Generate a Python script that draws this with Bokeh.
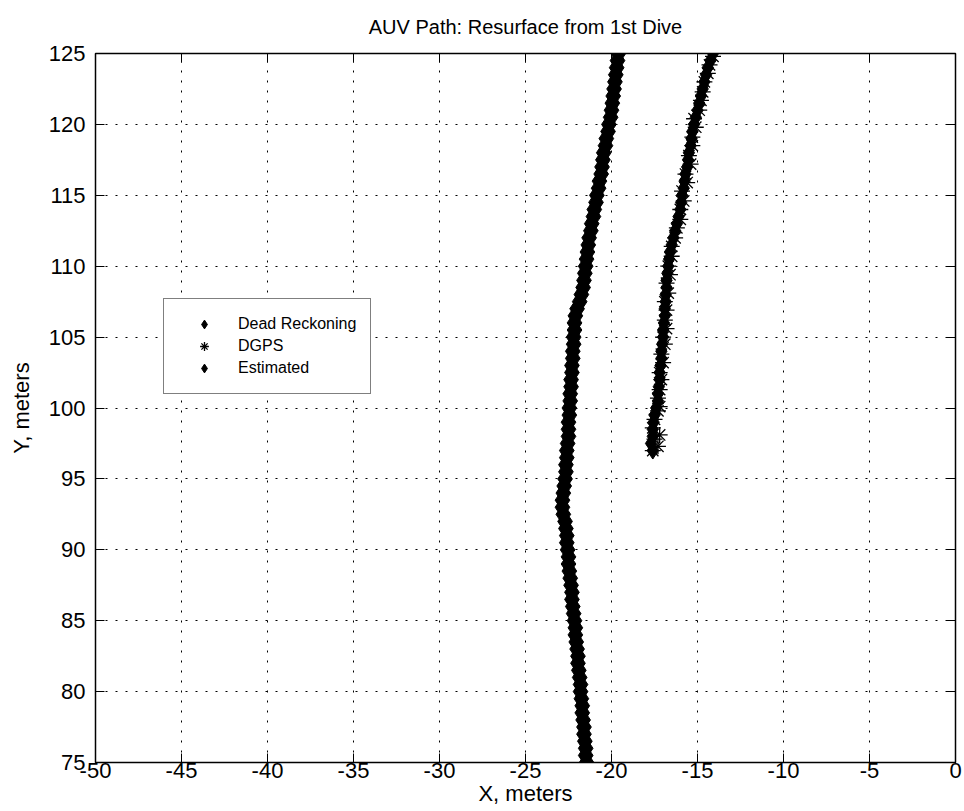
from bokeh.plotting import figure
from bokeh.models import LinearAxis, Range1d, Legend, LegendItem, FixedTicker
from bokeh.embed import file_html
from bokeh.resources import INLINE

# ---- data ----
dr_y = [75.0, 75.5, 76.0, 76.5, 77.0, 77.5, 78.0, 78.5, 79.0, 79.5,
        80.0, 80.5, 81.0, 81.5, 82.0, 82.5, 83.0, 83.5, 84.0, 84.5,
        85.0, 85.5, 86.0, 86.5, 87.0, 87.5, 88.0, 88.5, 89.0, 89.5,
        90.0, 90.5, 91.0, 91.5, 92.0, 92.5, 93.0, 93.5, 94.0, 94.5,
        95.0, 95.5, 96.0, 96.5, 97.0, 97.5, 98.0, 98.5, 99.0, 99.5,
        100.0, 100.5, 101.0, 101.5, 102.0, 102.5, 103.0, 103.5, 104.0, 104.5,
        105.0, 105.5, 106.0, 106.5, 107.0, 107.5, 108.0, 108.5, 109.0, 109.5,
        110.0, 110.5, 111.0, 111.5, 112.0, 112.5, 113.0, 113.5, 114.0, 114.5,
        115.0, 115.5, 116.0, 116.5, 117.0, 117.5, 118.0, 118.5, 119.0, 119.5,
        120.0, 120.5, 121.0, 121.5, 122.0, 122.5, 123.0, 123.5, 124.0, 124.5,
        125.0]
dr_x = [-21.45, -21.5, -21.5, -21.55, -21.6, -21.6, -21.65, -21.7, -21.7, -21.75,
        -21.8, -21.8, -21.85, -21.9, -21.95, -21.95, -22.0, -22.05, -22.1, -22.1,
        -22.15, -22.2, -22.25, -22.3, -22.3, -22.35, -22.4, -22.45, -22.5, -22.5,
        -22.55, -22.6, -22.6, -22.65, -22.7, -22.8, -22.85, -22.85, -22.8, -22.75,
        -22.7, -22.65, -22.65, -22.6, -22.6, -22.55, -22.5, -22.5, -22.5, -22.45,
        -22.45, -22.4, -22.4, -22.35, -22.35, -22.3, -22.3, -22.25, -22.25, -22.2,
        -22.2, -22.15, -22.15, -22.1, -22.0, -21.85, -21.75, -21.65, -21.6, -21.55,
        -21.5, -21.45, -21.4, -21.35, -21.3, -21.2, -21.15, -21.05, -21.0, -20.9,
        -20.85, -20.75, -20.7, -20.6, -20.55, -20.5, -20.45, -20.35, -20.3, -20.2,
        -20.15, -20.05, -20.0, -19.95, -19.9, -19.85, -19.8, -19.75, -19.7, -19.65,
        -19.6]

dgps_x = [-17.6, -17.3, -17.5, -17.2, -17.6, -17.5, -17.3, -17.2, -17.3, -17.2,
          -17.1, -17.2, -17.0, -17.1, -16.9, -17.0, -16.8, -16.9, -16.8, -16.9,
          -16.7, -16.8, -16.6, -16.7, -16.5, -16.5, -16.3, -16.2, -16.0, -16.0,
          -15.8, -15.9, -15.6, -15.7, -15.4, -15.5, -15.3, -15.3, -15.1, -15.2,
          -14.9, -14.8, -14.7, -14.6, -14.4, -14.3, -14.1]
dgps_y = [97.0, 97.3, 97.8, 98.1, 98.6, 99.2, 99.8, 100.1, 100.7, 101.3,
          102.0, 102.5, 103.2, 103.8, 104.5, 105.0, 105.6, 106.2, 106.9, 107.5,
          108.1, 108.8, 109.4, 110.0, 110.7, 111.4, 112.0, 112.7, 113.3, 114.0,
          114.6, 115.3, 115.9, 116.5, 117.2, 117.8, 118.5, 119.1, 119.8, 120.4,
          121.0, 121.7, 122.3, 123.0, 123.6, 124.2, 124.8]

est_y = [97.0, 97.5, 98.0, 98.5, 99.0, 99.5, 100.0, 100.5, 101.0, 101.5,
         102.0, 102.5, 103.0, 103.5, 104.0, 104.5, 105.0, 105.5, 106.0, 106.5,
         107.0, 107.5, 108.0, 108.5, 109.0, 109.5, 110.0, 110.5, 111.0, 111.5,
         112.0, 112.5, 113.0, 113.5, 114.0, 114.5, 115.0, 115.5, 116.0, 116.5,
         117.0, 117.5, 118.0, 118.5, 119.0, 119.5, 120.0, 120.5, 121.0, 121.5,
         122.0, 122.5, 123.0, 123.5, 124.0, 124.5, 125.0]
est_x = [-17.6, -17.7, -17.6, -17.6, -17.55, -17.5, -17.4, -17.3, -17.3, -17.25,
         -17.2, -17.2, -17.15, -17.1, -17.1, -17.05, -17.0, -17.0, -16.95, -16.9,
         -16.9, -16.85, -16.85, -16.8, -16.8, -16.75, -16.7, -16.65, -16.6, -16.5,
         -16.4, -16.3, -16.2, -16.1, -16.0, -15.95, -15.9, -15.8, -15.75, -15.7,
         -15.6, -15.55, -15.5, -15.4, -15.35, -15.3, -15.2, -15.1, -15.0, -14.9,
         -14.8, -14.7, -14.6, -14.5, -14.4, -14.25, -14.1]

x_ticks = [-50, -45, -40, -35, -30, -25, -20, -15, -10, -5, 0]
y_ticks = [75, 80, 85, 90, 95, 100, 105, 110, 115, 120, 125]

FONT = "'Liberation Sans', Arial, sans-serif"

p = figure(width=962, height=808, output_backend="svg", toolbar_location=None,
           x_range=Range1d(-50, 0), y_range=Range1d(75, 125),
           min_border_left=95, min_border_right=7, min_border_top=53,
           min_border_bottom=45,
           title="AUV Path: Resurface from 1st Dive")
p.background_fill_color = "white"
p.border_fill_color = "white"
p.outline_line_color = "black"
p.outline_line_width = 1.5

p.title.align = "center"
p.title.vertical_align = "top"
p.title.text_font = FONT
p.title.text_font_size = "20px"
p.title.text_font_style = "normal"
p.title.text_color = "black"
p.title.standoff = 27

for ax, ticks in ((p.xaxis[0], x_ticks), (p.yaxis[0], y_ticks)):
    ax.ticker = FixedTicker(ticks=ticks)
    ax.major_label_overrides = {t: str(t) for t in ticks}
    ax.major_tick_in = 9
    ax.major_tick_out = 0
    ax.minor_tick_line_color = None
    ax.axis_line_color = "black"
    ax.major_tick_line_color = "black"
    ax.major_label_text_font = FONT
    ax.major_label_text_font_size = "22px"
    ax.major_label_text_color = "black"
    ax.axis_label_text_font = FONT
    ax.axis_label_text_font_size = "22px"
    ax.axis_label_text_font_style = "normal"
    ax.axis_label_text_color = "black"

p.xaxis.axis_label = "X, meters"
p.yaxis.axis_label = "Y, meters"
p.xaxis.major_label_standoff = 0
p.xaxis.axis_label_standoff = 0
p.yaxis.major_label_standoff = 10
p.yaxis.axis_label_standoff = 12

# box ticks on top / right (no labels)
for loc, ticks in (("right", y_ticks), ("above", x_ticks)):
    ax = LinearAxis(ticker=FixedTicker(ticks=ticks), major_tick_in=9, major_tick_out=0,
                    minor_tick_line_color=None, major_label_text_font_size="1px",
                    major_label_text_color=None,
                    major_label_standoff=0, axis_line_color="black",
                    major_tick_line_color="black")
    p.add_layout(ax, loc)

p.xgrid.ticker = FixedTicker(ticks=x_ticks)
p.ygrid.ticker = FixedTicker(ticks=y_ticks)
for g in (p.xgrid[0], p.ygrid[0]):
    g.grid_line_color = "black"
    g.grid_line_dash = "2 8"
    g.grid_line_width = 1
    g.grid_line_alpha = 1

r_dr = p.scatter(dr_x, dr_y, marker="diamond", size=22, color="black")
r_dgps = p.scatter(dgps_x, dgps_y, marker="asterisk", size=16, line_color="black",
                   line_width=1.3)
r_est = p.scatter(est_x, est_y, marker="diamond", size=17, color="black")

legend = Legend(items=[LegendItem(label="Dead Reckoning", renderers=[r_dr]),
                       LegendItem(label="DGPS", renderers=[r_dgps]),
                       LegendItem(label="Estimated", renderers=[r_est])],
                location=(68, 368))
legend.border_line_color = "black"
legend.border_line_width = 1
legend.background_fill_alpha = 1
legend.padding = 14
legend.margin = 0
legend.spacing = 0
legend.glyph_width = 52
legend.glyph_height = 22
legend.label_height = 22
legend.label_standoff = 8
legend.label_text_font = FONT
legend.label_text_font_size = "16px"
legend.label_text_color = "black"
p.add_layout(legend, "center")

open("out.html", "w").write(file_html(p, INLINE))
